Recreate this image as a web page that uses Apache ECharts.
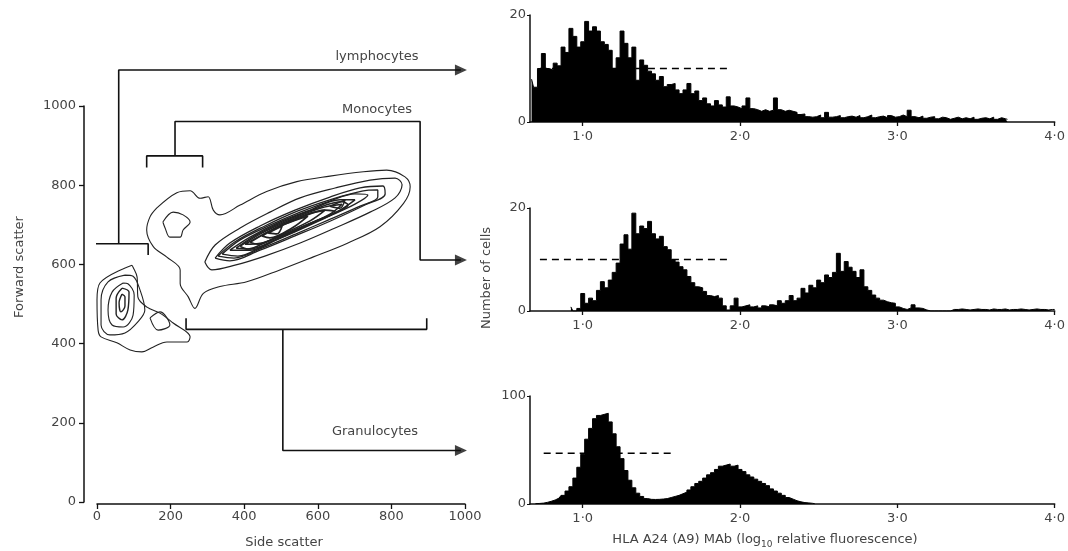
<!DOCTYPE html>
<html>
<head>
<meta charset="utf-8">
<script src="https://cdn.jsdelivr.net/npm/echarts@6/dist/echarts.min.js"></script>
<style>
  html, body { margin: 0; padding: 0; background: #fff; }
  #chart { width: 1068px; height: 551px; }
</style>
</head>
<body>
<div id="chart"></div>
<script>
// --- scatter plot (side scatter vs forward scatter), contours as [side, forward]
const lymphContour1 = [[95, 598], [8, 553], [0, 510], [3, 434], [11, 417], [54, 402], [90, 384], [122, 379], [152, 391], [190, 404], [245, 404], [253, 417], [207, 452], [171, 477], [136, 492], [111, 518], [109, 568], [98, 593]]
const lymphContour2 = [[76, 573], [30, 556], [11, 510], [11, 447], [35, 422], [76, 427], [111, 455], [130, 485], [117, 535], [98, 570]]
const lymphContour3 = [[71, 553], [41, 530], [30, 485], [41, 447], [71, 442], [98, 472], [101, 523], [84, 551]]
const lymphContour4 = [[68, 540], [52, 515], [52, 475], [68, 460], [84, 485], [87, 530]]
const lymphContour5 = [[68, 525], [60, 503], [65, 480], [76, 495], [76, 518]]
const lymphTailBlob = [[144, 465], [171, 480], [198, 447], [166, 434]]

const myeloidOuter = [[162, 742], [217, 781], [253, 786], [280, 767], [302, 771], [316, 737], [334, 725], [389, 750], [461, 784], [543, 809], [633, 823], [724, 834], [787, 838], [837, 821], [851, 796], [833, 754], [769, 695], [679, 653], [588, 619], [497, 586], [407, 556], [334, 544], [289, 527], [266, 489], [248, 518], [226, 552], [226, 586], [189, 619], [153, 645], [135, 687], [144, 720]]
const monoInner = [[179, 707], [207, 732], [234, 725], [253, 707], [234, 687], [226, 669], [198, 669], [185, 692]]
const granRing2 = [[293, 606], [321, 649], [389, 692], [470, 732], [552, 768], [647, 793], [742, 813], [810, 818], [829, 801], [810, 768], [742, 732], [647, 692], [552, 654], [456, 621], [375, 598], [312, 586]]
const granRing3 = [[321, 616], [361, 654], [443, 697], [538, 737], [633, 770], [715, 793], [777, 798], [783, 778], [728, 750], [633, 709], [538, 672], [443, 636], [361, 609]]
const granRing3b = [[329, 621], [375, 657], [456, 697], [546, 735], [639, 765], [720, 785], [763, 788], [763, 770], [715, 747], [628, 712], [541, 677], [448, 641], [372, 616]]
const granRing4 = [[340, 626], [389, 662], [470, 699], [552, 732], [633, 760], [701, 778], [736, 775], [701, 752], [620, 717], [538, 682], [456, 649], [383, 621]]
const granRing5 = [[361, 636], [416, 669], [497, 707], [579, 737], [660, 763], [701, 763], [660, 737], [579, 702], [497, 667], [416, 636]]
const granRing5b = [[378, 641], [432, 674], [511, 710], [592, 740], [666, 758], [682, 750], [647, 730], [565, 697], [484, 662], [416, 639]]
const granRing6 = [[389, 646], [448, 679], [524, 712], [606, 742], [666, 752], [633, 727], [552, 692], [465, 659], [410, 639]]
const granRing6b = [[402, 651], [470, 684], [546, 715], [620, 737], [647, 732], [600, 712], [524, 682], [448, 654]]
const granRing7 = [[416, 656], [484, 692], [565, 725], [620, 737], [579, 710], [497, 674], [437, 651]]
const granRing8 = [[448, 672], [511, 702], [573, 722], [530, 692], [470, 667]]
const granRing9 = [[465, 679], [503, 697], [489, 677]]
const granRing10 = [[633, 747], [674, 763], [660, 742]]

// gates and arrows, same [side, forward] scale
const lymphGate = [[-12, 624], [-12, 652], [139, 652], [139, 624]]
const lymphPath = [[59, 652], [59, 1091], [989, 1091]]
const monoGate = [[135, 845], [135, 874], [287, 874], [287, 845]]
const monoPath = [[212, 874], [212, 961], [878, 961], [878, 611], [989, 611]]
const granGate = [[242, 464], [242, 436], [896, 436], [896, 464]]
const granPath = [[505, 436], [505, 130], [989, 130]]
const arrowTips = [[989, 1091], [989, 611], [989, 130]]

// --- histograms: HLA A24 (A9) MAb, log10 fluorescence, 0.025 wide bins
const binWidth = 0.025
const lymphStart = 0.675
const lymphCounts = [8, 6.5, 10, 12.8, 10, 9.7, 11, 10.5, 14, 13, 17.5, 16, 14, 15, 18.8, 17, 17.8, 17, 15, 14.5, 13.4, 10, 12, 17, 14.7, 12, 14, 7.8, 11.6, 10.6, 9.5, 9, 7.8, 8.5, 6.6, 7, 7.2, 6, 5.3, 6, 7.2, 5.3, 5.8, 4, 4.5, 3.4, 3, 4, 3.2, 2.8, 4.7, 3, 2.8, 2.5, 3, 4.5, 2.5, 2.3, 2, 2.3, 2, 2.2, 4.5, 2.3, 2, 2.2, 2, 1.8, 1.4, 1.5, 1, 0.9, 1, 1.3, 0.8, 1.8, 0.9, 1, 1.2, 0.8, 1, 1.1, 0.9, 1.2, 0.8, 1, 1.3, 0.8, 1, 1.1, 0.8, 1.2, 0.9, 1, 1.3, 1, 2.2, 1, 0.8, 1.1, 0.7, 0.9, 1, 0.6, 0.9, 0.8, 0.5, 0.7, 0.9, 0.6, 0.8, 0.6, 0.9, 0.5, 0.7, 0.8, 0.6, 0.9, 0.5, 0.8, 0.6, 0.5]
const monoStart = 0.925
const monoCounts = [0.8, 0, 0.5, 3.4, 1.5, 2.5, 2, 4, 5.7, 4.5, 6, 7.5, 9.3, 13, 14.8, 12, 19, 15, 16.5, 16, 17.4, 15, 14, 14.5, 12.5, 11.9, 10, 9.5, 8.6, 8, 6.7, 5.5, 4.7, 4.5, 3.8, 3, 2.8, 3, 2.5, 1, 0.2, 1, 2.5, 0.8, 1, 1.2, 0.8, 1, 0.6, 1, 0.8, 1.2, 1, 2, 1.5, 2, 3, 2, 2.5, 4.4, 3.5, 5, 4.5, 6, 5.5, 7, 6.5, 7.5, 11.2, 7.7, 9.6, 8.5, 7.7, 6.5, 8, 4.7, 4, 3.1, 2.5, 2.1, 1.8, 1.6, 1.5, 0.8, 0.5, 0.3, 0.6, 1.2, 0.6, 0.5, 0.2, 0, 0, 0, 0, 0, 0, 0.3, 0.3, 0.4, 0.3, 0.2, 0.3, 0.4, 0.3, 0.3, 0.2, 0.4, 0.3, 0.3, 0.4, 0.2, 0.3, 0.3, 0.4, 0.3, 0.2, 0.3, 0.4, 0.3, 0.3, 0.2, 0.3, 0.3]
const granStart = 0.7
const granCounts = [0.3, 0.5, 0.8, 1.5, 2.5, 3.7, 5.5, 8, 12, 16, 24, 34, 46, 60, 70, 79, 82, 83, 84, 76, 65, 53, 42, 31, 22, 15, 10, 7, 5, 4.3, 4.2, 4.3, 4.6, 5, 6, 7, 8, 9.5, 11, 13, 16, 19, 21, 24, 27, 29, 32, 35, 36, 37, 35, 36, 32, 30, 27, 25, 23, 21, 19, 17, 14, 12, 10, 8, 6, 4.5, 3, 2, 1.3, 1, 0.6, 0.3]

// dashed reference lines [from, to, level]
const lymphDash = [0.728, 1.934, 10]
const monoDash = [0.728, 1.93, 10]
const granDash = [0.752, 1.569, 47]

const histTicks = [1, 2, 3, 4]
const histYMax = [20, 20, 100]

const ink = '#111'
const textColor = '#444'
const font = 'DejaVu Sans'

const chart = echarts.init(document.getElementById('chart'))

const contour = (points, width) => ({
  type: 'line',
  xAxisIndex: 0,
  yAxisIndex: 0,
  data: points.concat([points[0]]),
  symbol: 'none',
  smooth: 0.35,
  clip: false,
  silent: true,
  lineStyle: { color: '#222', width: width || 1.1 },
})

const gateLine = (points) => ({
  type: 'line',
  xAxisIndex: 0,
  yAxisIndex: 0,
  data: points,
  symbol: 'none',
  clip: false,
  silent: true,
  lineStyle: { color: ink, width: 1.6 },
})

const histogram = (idx, start, counts) => ({
  type: 'line',
  xAxisIndex: idx,
  yAxisIndex: idx,
  data: counts.map((c, i) => [start + i * binWidth, c]),
  step: 'middle',
  symbol: 'none',
  silent: true,
  lineStyle: { color: '#000', width: 1 },
  areaStyle: { color: '#000', opacity: 1 },
})

const dashLine = (idx, d) => ({
  type: 'line',
  xAxisIndex: idx,
  yAxisIndex: idx,
  data: [[d[0], d[2]], [d[1], d[2]]],
  symbol: 'none',
  silent: true,
  lineStyle: { color: '#000', width: 1.5, type: [7, 5] },
})

const histX = (idx) => ({
  type: 'value',
  gridIndex: idx,
  min: 0.665,
  max: 4,
  axisLine: { onZero: false, lineStyle: { color: ink, width: 1.5 } },
  axisTick: { length: 4, customValues: histTicks, lineStyle: { color: ink, width: 1.3 } },
  axisLabel: {
    customValues: histTicks,
    margin: 8,
    color: textColor,
    fontSize: 13,
    fontFamily: font,
    formatter: (v) => v.toFixed(1).replace('.', '·'),
  },
  splitLine: { show: false },
})

const histY = (idx, max) => ({
  type: 'value',
  gridIndex: idx,
  min: 0,
  max: max,
  interval: max,
  axisLine: { show: true, onZero: false, lineStyle: { color: ink, width: 1.5 } },
  axisTick: { show: true, length: 3, lineStyle: { color: ink } },
  axisLabel: { margin: 4, color: textColor, fontSize: 13, fontFamily: font },
  splitLine: { show: false },
})

const label = (text, x, y, extra) =>
  Object.assign(
    {
      type: 'text',
      x: x,
      y: y,
      silent: true,
      style: {
        text: text,
        align: 'center',
        verticalAlign: 'middle',
        fill: textColor,
        font: '13px ' + font,
      },
    },
    extra || {}
  )

chart.setOption({
  backgroundColor: '#ffffff',
  animation: false,
  grid: [
    { left: 97, top: 106, width: 368, height: 396 },
    { left: 530, top: 15, width: 531, height: 107 },
    { left: 530, top: 208, width: 531, height: 103 },
    { left: 530, top: 396, width: 531, height: 108 },
  ],
  xAxis: [
    {
      type: 'value',
      gridIndex: 0,
      min: 0,
      max: 1000,
      interval: 200,
      offset: 2,
      axisLine: { onZero: false, lineStyle: { color: ink, width: 1.5 } },
      axisTick: { length: 5, lineStyle: { color: ink, width: 1.3 } },
      axisLabel: { margin: 6, color: textColor, fontSize: 13, fontFamily: font, formatter: (v) => String(v) },
      splitLine: { show: false },
    },
    histX(1),
    histX(2),
    histX(3),
  ],
  yAxis: [
    {
      type: 'value',
      gridIndex: 0,
      min: 0,
      max: 1000,
      interval: 200,
      offset: 13,
      axisLine: { show: true, onZero: false, lineStyle: { color: ink, width: 1.5 } },
      axisTick: { show: true, length: 5, lineStyle: { color: ink, width: 1.3 } },
      axisLabel: { margin: 8, color: textColor, fontSize: 13, fontFamily: font, formatter: (v) => String(v) },
      splitLine: { show: false },
    },
    histY(1, histYMax[0]),
    histY(2, histYMax[1]),
    histY(3, histYMax[2]),
  ],
  series: [
    contour(lymphContour1),
    contour(lymphContour2),
    contour(lymphContour3),
    contour(lymphContour4, 1.4),
    contour(lymphContour5, 1.4),
    contour(lymphTailBlob),
    contour(myeloidOuter),
    contour(monoInner),
    contour(granRing2, 1.2),
    contour(granRing3, 1.3),
    contour(granRing3b, 1.3),
    contour(granRing4, 1.4),
    contour(granRing5, 1.5),
    contour(granRing5b, 1.5),
    contour(granRing6, 1.6),
    contour(granRing6b, 1.6),
    contour(granRing7, 1.6),
    contour(granRing8, 1.7),
    contour(granRing9, 1.7),
    contour(granRing10, 1.5),
    gateLine(lymphGate),
    gateLine(lymphPath),
    gateLine(monoGate),
    gateLine(monoPath),
    gateLine(granGate),
    gateLine(granPath),
    {
      type: 'scatter',
      xAxisIndex: 0,
      yAxisIndex: 0,
      data: arrowTips,
      symbol: 'triangle',
      symbolSize: [11, 12],
      symbolRotate: -90,
      clip: false,
      silent: true,
      itemStyle: { color: ink },
    },
    histogram(1, lymphStart, lymphCounts),
    histogram(2, monoStart, monoCounts),
    histogram(3, granStart, granCounts),
    dashLine(1, lymphDash),
    dashLine(2, monoDash),
    dashLine(3, granDash),
  ],
  graphic: [
    label('lymphocytes', 377, 57),
    label('Monocytes', 377, 110),
    label('Granulocytes', 375, 432),
    label('Forward scatter', 20, 267, { rotation: Math.PI / 2 }),
    label('Side scatter', 284, 543),
    label('Number of cells', 487, 278, { rotation: Math.PI / 2 }),
    {
      type: 'text',
      x: 765,
      y: 540,
      silent: true,
      style: {
        text: '{n|HLA A24 (A9) MAb (log}{s|10}{n| relative fluorescence)}',
        align: 'center',
        verticalAlign: 'middle',
        fill: textColor,
        rich: {
          n: { fontSize: 13, fontFamily: font, lineHeight: 18, fill: textColor },
          s: { fontSize: 9, fontFamily: font, lineHeight: 9, verticalAlign: 'bottom', fill: textColor },
        },
      },
    },
  ],
})
</script>
</body>
</html>
